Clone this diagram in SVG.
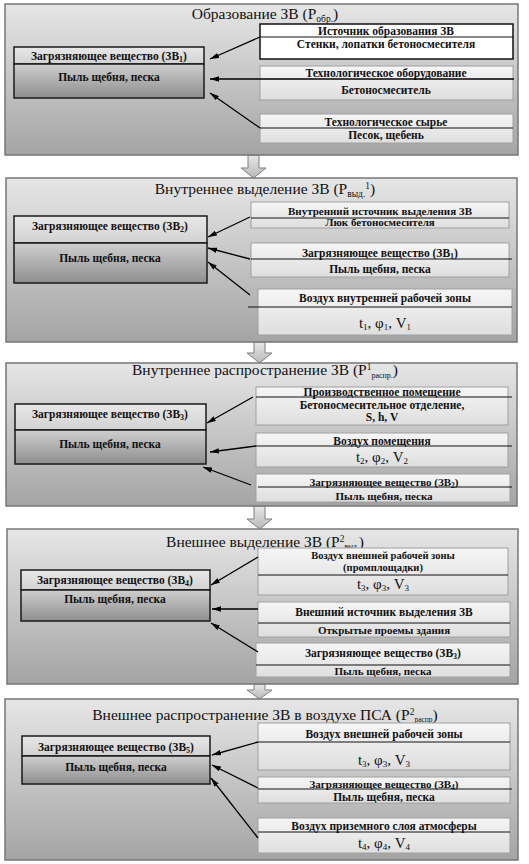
<svg xmlns="http://www.w3.org/2000/svg" width="529" height="864" viewBox="0 0 529 864">
<defs>
<linearGradient id="gPanel" x1="0" y1="0" x2="0" y2="1"><stop offset="0" stop-color="#e6e6e6"/><stop offset="1" stop-color="#a4a4a4"/></linearGradient>
<linearGradient id="gTop" x1="0" y1="0" x2="0" y2="1"><stop offset="0" stop-color="#e8e8e8"/><stop offset="1" stop-color="#d2d2d2"/></linearGradient>
<linearGradient id="gBot" x1="0" y1="0" x2="0" y2="1"><stop offset="0" stop-color="#cfcfcf"/><stop offset="1" stop-color="#8e8e8e"/></linearGradient>
<linearGradient id="gR" x1="0" y1="0" x2="0" y2="1"><stop offset="0" stop-color="#f6f6f6"/><stop offset="1" stop-color="#dedede"/></linearGradient>
<linearGradient id="gBA" x1="0" y1="0" x2="0" y2="1"><stop offset="0" stop-color="#e8e8e8"/><stop offset="1" stop-color="#b8b8b8"/></linearGradient>
<marker id="ah" viewBox="0 0 10 6" refX="10" refY="3" markerWidth="9" markerHeight="5.4" markerUnits="userSpaceOnUse" orient="auto"><path d="M0,0 L10,3 L0,6 z" fill="#000"/></marker>
</defs>
<style>
.panel{fill:url(#gPanel);stroke:#777;stroke-width:1.5}
.ltop{fill:url(#gTop);stroke:#1a1a1a;stroke-width:1.5}
.lbot{fill:url(#gBot);stroke:#1a1a1a;stroke-width:1.5}
.rb{fill:url(#gR);stroke:#a0a0a0;stroke-width:1}
.rbk{fill:#ffffff;stroke:#111;stroke-width:1.5}
.dv{stroke:#111;stroke-width:1;fill:none}
.ba{fill:url(#gBA);stroke:#808080;stroke-width:1}
.cn line{stroke:#000;stroke-width:1.3;marker-end:url(#ah)}
text{font-family:"Liberation Serif","Times New Roman",serif;fill:#111;text-anchor:middle}
.t{font-size:15.5px}
.b{font-size:11.5px;font-weight:bold}
.bs{font-size:11px;font-weight:bold}
.bt{font-size:10.5px;font-weight:bold}
.m{font-size:15px}
</style>
<rect width="529" height="864" fill="#ffffff"/>

<!-- block arrows -->
<g id="blockarrows">
<path class="ba" d="M248,155 h11 v13 h7 l-12.5,10 l-12.5,-10 h7 z"/>
<path class="ba" d="M254,342 h11 v11 h7 l-12.5,10 l-12.5,-10 h7 z"/>
<path class="ba" d="M254,506 h11 v13 h7 l-12.5,10 l-12.5,-10 h7 z"/>
<path class="ba" d="M254,684 h11 v6 h7 l-12.5,9 l-12.5,-9 h7 z"/>
</g>

<!-- Section 1 -->
<g id="s1">
<rect class="panel" x="5" y="4" width="513" height="151"/>
<text class="t" x="265" y="19">Образование ЗВ (P<tspan font-size="9.5" dy="3">обр.</tspan><tspan dy="-3">)</tspan></text>
</g>
<g id="s1-left">
<rect class="ltop" x="14" y="47" width="190" height="17"/>
<rect class="lbot" x="14" y="64" width="190" height="34"/>
<text class="b" x="109" y="60">Загрязняющее вещество (ЗВ<tspan font-size="8" dy="2">1</tspan><tspan dy="-2">)</tspan></text>
<text class="b" x="109" y="81">Пыль щебня, песка</text>
</g>
<g id="s1-r1">
<rect class="rbk" x="260" y="24" width="253" height="35"/>
<line class="dv" x1="260" y1="37" x2="513" y2="37"/>
<text class="b" x="386" y="35">Источник образования ЗВ</text>
<text class="b" x="386" y="48">Стенки, лопатки бетоносмесителя</text>
</g>
<g id="s1-r2">
<rect class="rb" x="260" y="66" width="253" height="34"/>
<text class="b" x="386" y="77">Технологическое оборудование</text>
<text class="b" x="386" y="94">Бетоносмеситель</text>
</g>
<g id="s1-r3">
<rect class="rb" x="260" y="114" width="253" height="29"/>
<line class="dv" x1="260" y1="128" x2="513" y2="128"/>
<text class="b" x="386" y="126">Технологическое сырье</text>
<text class="b" x="386" y="139">Песок, щебень</text>
</g>

<!-- Section 2 -->
<g id="s2">
<rect class="panel" x="6" y="178" width="511" height="164"/>
<text class="t" x="265" y="194">Внутреннее выделение ЗВ (P<tspan font-size="9.5" dy="3">выд.</tspan><tspan font-size="9.5" dy="-8">1</tspan><tspan dy="5">)</tspan></text>
</g>
<g id="s2-left">
<rect class="ltop" x="14" y="216" width="193" height="27"/>
<rect class="lbot" x="14" y="243" width="193" height="40"/>
<text class="b" x="110" y="230">Загрязняющее вещество (ЗВ<tspan font-size="8" dy="2">2</tspan><tspan dy="-2">)</tspan></text>
<text class="b" x="110" y="262">Пыль щебня, песка</text>
</g>
<g id="s2-r1">
<rect class="rb" x="251" y="202" width="258" height="26"/>
<line class="dv" x1="251" y1="218" x2="509" y2="218"/>
<text class="bs" x="380" y="215">Внутренний источник выделения ЗВ</text>
<text class="bs" x="380" y="226">Люк бетоносмесителя</text>
</g>
<g id="s2-r2">
<rect class="rb" x="251" y="243" width="258" height="34"/>
<line class="dv" x1="251" y1="259" x2="512" y2="259"/>
<text class="b" x="380" y="257">Загрязняющее вещество (ЗВ<tspan font-size="8" dy="2">1</tspan><tspan dy="-2">)</tspan></text>
<text class="b" x="380" y="273">Пыль щебня, песка</text>
</g>
<g id="s2-r3">
<rect class="rb" x="258" y="289" width="254" height="46"/>
<line class="dv" x1="248" y1="307" x2="512" y2="307"/>
<text class="b" x="385" y="302">Воздух внутренней рабочей зоны</text>
<text class="m" x="385" y="328">t<tspan font-size="9" dy="2">1</tspan><tspan dy="-2">, φ</tspan><tspan font-size="9" dy="2">1</tspan><tspan dy="-2">, V</tspan><tspan font-size="9" dy="2">1</tspan></text>
</g>

<!-- Section 3 -->
<g id="s3">
<rect class="panel" x="6" y="363" width="511" height="143"/>
<text class="t" x="265" y="375">Внутреннее распространение ЗВ (P<tspan font-size="9.5" dy="-5">1</tspan><tspan font-size="8" dy="8">распр.</tspan><tspan dy="-3">)</tspan></text>
</g>
<g id="s3-left">
<rect class="ltop" x="15" y="404" width="191" height="26"/>
<rect class="lbot" x="15" y="430" width="191" height="34"/>
<text class="b" x="110" y="418">Загрязняющее вещество (ЗВ<tspan font-size="8" dy="2">3</tspan><tspan dy="-2">)</tspan></text>
<text class="b" x="110" y="448">Пыль щебня, песка</text>
</g>
<g id="s3-r1">
<rect class="rb" x="256" y="387" width="252" height="38"/>
<line class="dv" x1="256" y1="397" x2="512" y2="397"/>
<text class="b" x="382" y="396">Производственное помещение</text>
<text class="b" x="382" y="409">Бетоносмесительное отделение,</text>
<text class="b" x="382" y="421">S, h, V</text>
</g>
<g id="s3-r2">
<rect class="rb" x="256" y="433" width="252" height="34"/>
<line class="dv" x1="256" y1="446" x2="512" y2="446"/>
<text class="b" x="382" y="445">Воздух помещения</text>
<text class="m" x="382" y="462">t<tspan font-size="9" dy="2">2</tspan><tspan dy="-2">, φ</tspan><tspan font-size="9" dy="2">2</tspan><tspan dy="-2">, V</tspan><tspan font-size="9" dy="2">2</tspan></text>
</g>
<g id="s3-r3">
<rect class="rb" x="256" y="474" width="254" height="28"/>
<line class="dv" x1="258" y1="487" x2="512" y2="487"/>
<text class="bs" x="384" y="486">Загрязняющее вещество (ЗВ<tspan font-size="7.5" dy="2">2</tspan><tspan dy="-2">)</tspan></text>
<text class="bs" x="384" y="500">Пыль щебня, песка</text>
</g>

<!-- Section 4 -->
<g id="s4">
<rect class="panel" x="7" y="529" width="511" height="155"/>
<text class="t" x="265" y="547">Внешнее выделение ЗВ (P<tspan font-size="9.5" dy="-5">2</tspan><tspan font-size="7.5" dy="7">выд.</tspan><tspan dy="-2">)</tspan></text>
</g>
<g id="s4-left">
<rect class="ltop" x="21" y="570" width="189" height="20"/>
<rect class="lbot" x="21" y="590" width="189" height="31"/>
<text class="b" x="115" y="584">Загрязняющее вещество (ЗВ<tspan font-size="8" dy="2">4</tspan><tspan dy="-2">)</tspan></text>
<text class="b" x="115" y="603">Пыль щебня, песка</text>
</g>
<g id="s4-r1">
<rect class="rb" x="258" y="548" width="250" height="47"/>
<line class="dv" x1="258" y1="575" x2="508" y2="575"/>
<text class="bt" x="383" y="559">Воздух внешней рабочей зоны</text>
<text class="bt" x="383" y="571">(промплощадки)</text>
<text class="m" x="383" y="589">t<tspan font-size="9" dy="2">3</tspan><tspan dy="-2">, φ</tspan><tspan font-size="9" dy="2">3</tspan><tspan dy="-2">, V</tspan><tspan font-size="9" dy="2">3</tspan></text>
</g>
<g id="s4-r2">
<rect class="rb" x="258" y="602" width="252" height="35"/>
<line class="dv" x1="258" y1="623" x2="510" y2="623"/>
<text class="b" x="384" y="616">Внешний источник выделения ЗВ</text>
<text class="bs" x="384" y="634">Открытые проемы здания</text>
</g>
<g id="s4-r3">
<rect class="rb" x="256" y="643" width="254" height="34"/>
<line class="dv" x1="256" y1="665" x2="510" y2="665"/>
<text class="b" x="383" y="657">Загрязняющее вещество (ЗВ<tspan font-size="8" dy="2">3</tspan><tspan dy="-2">)</tspan></text>
<text class="bs" x="383" y="675">Пыль щебня, песка</text>
</g>

<!-- Section 5 -->
<g id="s5">
<rect class="panel" x="5" y="699" width="513" height="161"/>
<text class="t" x="265" y="720">Внешнее распространение ЗВ в воздухе ПСА (P<tspan font-size="9.5" dy="-5">2</tspan><tspan font-size="7.5" dy="7">распр</tspan><tspan dy="-2">)</tspan></text>
</g>
<g id="s5-left">
<rect class="ltop" x="22" y="736" width="188" height="20"/>
<rect class="lbot" x="22" y="756" width="188" height="28"/>
<text class="b" x="116" y="751">Загрязняющее вещество (ЗВ<tspan font-size="8" dy="2">5</tspan><tspan dy="-2">)</tspan></text>
<text class="b" x="116" y="771">Пыль щебня, песка</text>
</g>
<g id="s5-r1">
<rect class="rb" x="258" y="723" width="252" height="47"/>
<line class="dv" x1="258" y1="742" x2="510" y2="742"/>
<text class="b" x="384" y="738">Воздух внешней рабочей зоны</text>
<text class="m" x="384" y="765">t<tspan font-size="9" dy="2">3</tspan><tspan dy="-2">, φ</tspan><tspan font-size="9" dy="2">3</tspan><tspan dy="-2">, V</tspan><tspan font-size="9" dy="2">3</tspan></text>
</g>
<g id="s5-r2">
<rect class="rb" x="258" y="777" width="252" height="26"/>
<line class="dv" x1="258" y1="789" x2="512" y2="789"/>
<text class="bs" x="384" y="788">Загрязняющее вещество (ЗВ<tspan font-size="7.5" dy="2">4</tspan><tspan dy="-2">)</tspan></text>
<text class="b" x="384" y="801">Пыль щебня, песка</text>
</g>
<g id="s5-r3">
<rect class="rb" x="258" y="818" width="252" height="35"/>
<line class="dv" x1="258" y1="832" x2="510" y2="832"/>
<text class="b" x="384" y="830">Воздух приземного слоя атмосферы</text>
<text class="m" x="384" y="848">t<tspan font-size="9" dy="2">4</tspan><tspan dy="-2">, φ</tspan><tspan font-size="9" dy="2">4</tspan><tspan dy="-2">, V</tspan><tspan font-size="9" dy="2">4</tspan></text>
</g>

<!-- connectors -->
<g id="connectors" class="cn">
<line x1="260" y1="37" x2="210" y2="59"/>
<line x1="514" y1="79" x2="210" y2="79"/>
<line x1="260" y1="128" x2="210" y2="93"/>
<line x1="250" y1="217" x2="208" y2="237"/>
<line x1="250" y1="259" x2="208" y2="248"/>
<line x1="250" y1="295" x2="208" y2="262"/>
<line x1="253" y1="397" x2="207" y2="423"/>
<line x1="256" y1="446" x2="210" y2="452"/>
<line x1="251" y1="485" x2="203" y2="467"/>
<line x1="258" y1="557" x2="211" y2="585"/>
<line x1="258" y1="609" x2="212" y2="609"/>
<line x1="258" y1="652" x2="211" y2="623"/>
<line x1="258" y1="742" x2="212" y2="755"/>
<line x1="258" y1="788" x2="212" y2="765"/>
<line x1="258" y1="838" x2="211" y2="778"/>
</g>
</svg>
